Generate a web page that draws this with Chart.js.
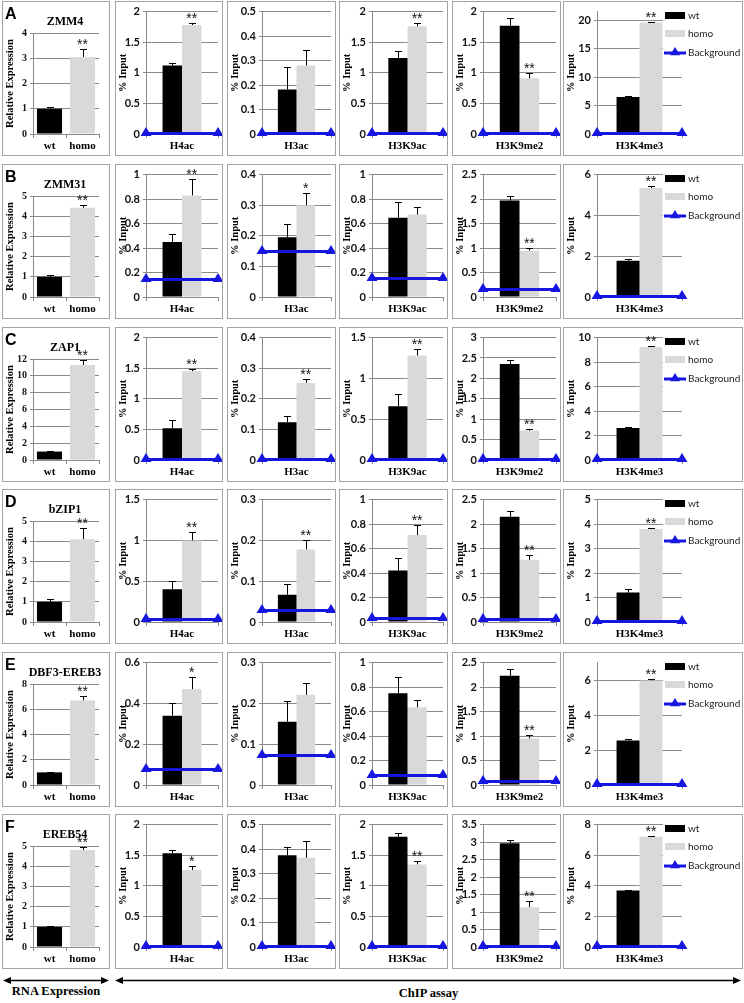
<!DOCTYPE html>
<html>
<head>
<meta charset="utf-8">
<title>RNA expression and ChIP assay</title>
<script src="https://cdn.jsdelivr.net/npm/chart.js@4/dist/chart.umd.min.js"></script>
<style>
  body { margin: 0; background: #fff; }
  #fig { position: relative; width: 744px; height: 1003px; overflow: hidden; background: #fff; }
  .panel { position: absolute; box-sizing: border-box; border: 1px solid #a3a3a3; background: #fff; }
  .panel canvas { position: absolute; left: 0; top: 0; }
  .letter { position: absolute; left: 2px; top: 3px; font: bold 16px "Liberation Sans", Arial, sans-serif; color: #000; }
  .gene { position: absolute; top: 12px; transform: translateX(-50%); white-space: nowrap;
          font: bold 12px "Liberation Serif", "Times New Roman", serif; color: #000; }
  .caption { position: absolute; text-align: center; font: bold 12.5px "Liberation Serif", "Times New Roman", serif; color: #000; }
  #arrows { position: absolute; left: 0; top: 0; }
</style>
</head>
<body>
<div id="fig">
  <svg id="arrows" width="744" height="1003">
    <g stroke="#000" stroke-width="1.5">
      <line x1="8" y1="980.5" x2="104" y2="980.5"/>
      <line x1="120" y1="980.5" x2="736" y2="980.5"/>
    </g>
    <g fill="#000">
      <polygon points="3,980.5 11,977 11,984"/>
      <polygon points="109,980.5 101,977 101,984"/>
      <polygon points="115,980.5 123,977 123,984"/>
      <polygon points="741,980.5 733,977 733,984"/>
    </g>
  </svg>
  <div class="caption" style="left:0;width:112px;top:984px">RNA Expression</div>
  <div class="caption" style="left:115px;width:627px;top:986px">ChIP assay</div>
</div>
<script>
// RNA expression (left column)
var genes = ['ZMM4', 'ZMM31', 'ZAP1', 'bZIP1', 'DBF3-EREB3', 'EREB54'];
var rowLetters = ['A', 'B', 'C', 'D', 'E', 'F'];
var rnaLabels = ['wt', 'homo'];
var rnaWt = [1.0, 1.0, 1.0, 1.0, 1.0, 1.0];
var rnaWtErr = [0.05, 0.10, 0.06, 0.12, 0.05, 0.04];
var rnaHomo = [3.05, 4.42, 11.3, 4.10, 6.70, 4.80];
var rnaHomoErr = [0.32, 0.13, 0.60, 0.55, 0.35, 0.15];
var rnaStars = ['**', '**', '**', '**', '**', '**'];
var rnaMax = [4, 5, 12, 5, 8, 5];
var rnaStep = [1, 1, 2, 1, 2, 1];

// ChIP assay, one row per gene, one column per mark
var marks = ['H4ac', 'H3ac', 'H3K9ac', 'H3K9me2', 'H3K4me3'];
var wtInput = [
  [1.12, 0.182, 1.24, 1.77, 6.5],
  [0.45, 0.195, 0.647, 1.97, 1.78],
  [0.52, 0.123, 0.66, 2.35, 2.61],
  [0.40, 0.067, 0.42, 2.15, 1.20],
  [0.34, 0.155, 0.75, 2.23, 2.55],
  [1.53, 0.375, 1.80, 2.97, 3.70]
];
var wtErr = [
  [0.04, 0.093, 0.11, 0.13, 0.10],
  [0.065, 0.044, 0.13, 0.09, 0.10],
  [0.13, 0.021, 0.15, 0.09, 0.12],
  [0.10, 0.025, 0.10, 0.12, 0.15],
  [0.06, 0.05, 0.13, 0.14, 0.10],
  [0.05, 0.035, 0.06, 0.10, 0.05]
];
var homoInput = [
  [1.78, 0.28, 1.76, 0.91, 19.6],
  [0.83, 0.30, 0.674, 0.946, 5.34],
  [1.45, 0.252, 1.28, 0.72, 9.23],
  [1.00, 0.178, 0.71, 1.27, 3.80],
  [0.47, 0.221, 0.635, 0.95, 5.98],
  [1.26, 0.365, 1.35, 1.14, 7.20]
];
var homoErr = [
  [0.04, 0.062, 0.05, 0.09, 0.15],
  [0.13, 0.041, 0.062, 0.045, 0.08],
  [0.04, 0.013, 0.08, 0.05, 0.10],
  [0.10, 0.022, 0.08, 0.10, 0.04],
  [0.06, 0.03, 0.061, 0.08, 0.10],
  [0.07, 0.07, 0.06, 0.17, 0.06]
];
var homoStars = [
  ['**', '', '**', '**', '**'],
  ['**', '*', '', '**', '**'],
  ['**', '**', '**', '**', '**'],
  ['**', '**', '**', '**', '**'],
  ['*', '', '', '**', '**'],
  ['*', '', '**', '**', '**']
];
var background = [
  [0, 0, 0, 0, 0],
  [0.142, 0.146, 0.145, 0.137, 0],
  [0, 0, 0, 0, 0],
  [0.03, 0.028, 0.025, 0.04, 0],
  [0.073, 0.072, 0.07, 0.07, 0],
  [0, 0, 0, 0, 0]
];
var chipMax = [
  [2, 0.5, 2, 2, 21.5],
  [1, 0.4, 1, 2.5, 6],
  [2, 0.4, 1.5, 3, 10],
  [1.5, 0.3, 1, 2.5, 5],
  [0.6, 0.3, 1, 2.5, 7],
  [2, 0.5, 2, 3.5, 8]
];
var chipStep = [
  [0.5, 0.1, 0.5, 0.5, 5],
  [0.2, 0.1, 0.2, 0.5, 2],
  [0.5, 0.1, 0.5, 0.5, 2],
  [0.5, 0.1, 0.2, 0.5, 1],
  [0.2, 0.1, 0.2, 0.5, 2],
  [0.5, 0.1, 0.5, 0.5, 1]
];

var SERIF = '"Liberation Serif", "Times New Roman", serif';
var SANS = 'Lato, "Liberation Sans", sans-serif';
var GRID = '#8a8a8a';
var BLUE = '#1616e0';
var WT_COLOR = '#000000';
var HOMO_COLOR = '#d9d9d9';

var colLeft = [2, 115, 227, 339, 452, 563];
var colWidth = [108, 108, 109, 109, 109, 180];
var yAxisWidth = [30, 30, 34, 32, 30, 33];
var rightPad = [10, 4, 4, 4, 4, 60];
var rowTop = [1, 164, 327, 489, 652, 814];
var PANEL_H = 155;

Chart.defaults.animation = false;

function keepSteps(step) {
    return function (scale) {
        scale.ticks = scale.ticks.filter(function (t) {
            var r = t.value / step;
            return Math.abs(r - Math.round(r)) < 1e-6;
        });
    };
}

function tickText(v) {
    return String(Math.round(v * 1000) / 1000);
}

function drawTriangle(ctx, x, y, r) {
    ctx.beginPath();
    ctx.moveTo(x, y - r);
    ctx.lineTo(x + r, y + r * 0.65);
    ctx.lineTo(x - r, y + r * 0.65);
    ctx.closePath();
    ctx.fill();
}

// background level: a blue line across the plot with triangle markers at both ends
var backgroundLine = {
    id: 'backgroundLine',
    afterDatasetsDraw: function (chart, args, opts) {
        if (typeof opts.value !== 'number') return;
        var ctx = chart.ctx;
        var area = chart.chartArea;
        var y = Math.round(chart.scales.y.getPixelForValue(opts.value)) - 0.5;
        ctx.save();
        ctx.strokeStyle = BLUE;
        ctx.fillStyle = BLUE;
        ctx.lineWidth = 3;
        ctx.beginPath();
        ctx.moveTo(area.left, y);
        ctx.lineTo(area.right, y);
        ctx.stroke();
        drawTriangle(ctx, area.left, y - 1, 5.5);
        drawTriangle(ctx, area.right, y - 1, 5.5);
        ctx.restore();
    }
};

// error bars (plus direction) and significance stars
var errorBars = {
    id: 'errorBars',
    afterDatasetsDraw: function (chart, args, opts) {
        var ctx = chart.ctx;
        var yScale = chart.scales.y;
        ctx.save();
        ctx.strokeStyle = '#000';
        ctx.lineWidth = 1;
        ctx.fillStyle = '#111';
        ctx.font = '14px "Liberation Sans", Arial, sans-serif';
        ctx.textAlign = 'center';
        ctx.textBaseline = 'alphabetic';
        (opts.sets || []).forEach(function (set) {
            var meta = chart.getDatasetMeta(set.index);
            var values = chart.data.datasets[set.index].data;
            meta.data.forEach(function (bar, i) {
                var x = Math.round(bar.x) + 0.5;
                var top = Math.round(yScale.getPixelForValue(values[i] + set.err[i])) + 0.5;
                ctx.beginPath();
                ctx.moveTo(x, bar.y);
                ctx.lineTo(x, top);
                ctx.moveTo(x - 3.5, top);
                ctx.lineTo(x + 3.5, top);
                ctx.stroke();
                if (set.stars[i]) {
                    ctx.fillText(set.stars[i], bar.x, top - 1);
                }
            });
        });
        ctx.restore();
    }
};

// legend drawn over the top right of the last column
var sideLegend = {
    id: 'sideLegend',
    afterDraw: function (chart, args, opts) {
        if (!opts.show) return;
        var ctx = chart.ctx;
        var x0 = 101, tx = 124;
        ctx.save();
        ctx.fillStyle = '#fff';
        ctx.fillRect(x0 - 2, 4, chart.width - x0 + 2, 58);
        ctx.fillStyle = WT_COLOR;
        ctx.fillRect(x0, 10, 20, 7);
        ctx.fillStyle = HOMO_COLOR;
        ctx.fillRect(x0, 28, 20, 7);
        ctx.strokeStyle = BLUE;
        ctx.lineWidth = 3;
        ctx.beginPath();
        ctx.moveTo(x0 - 1, 51);
        ctx.lineTo(x0 + 21, 51);
        ctx.stroke();
        ctx.fillStyle = BLUE;
        drawTriangle(ctx, x0 + 10, 50, 5);
        ctx.fillStyle = '#222';
        ctx.font = '10px ' + SANS;
        ctx.textAlign = 'left';
        ctx.textBaseline = 'middle';
        ctx.fillText('wt', tx, 13.5);
        ctx.fillText('homo', tx, 31.5);
        ctx.fillText('Background', tx, 51);
        ctx.restore();
    }
};

var fig = document.getElementById('fig');

function addPanel(r, c) {
    var box = document.createElement('div');
    box.className = 'panel';
    box.style.left = colLeft[c] + 'px';
    box.style.top = rowTop[r] + 'px';
    box.style.width = colWidth[c] + 'px';
    box.style.height = PANEL_H + 'px';
    var cv = document.createElement('canvas');
    cv.width = colWidth[c] - 2;
    cv.height = PANEL_H - 2;
    box.appendChild(cv);
    fig.appendChild(box);
    return {box: box, canvas: cv};
}

function xAxis() {
    return {
        grid: {display: true, drawOnChartArea: false, drawTicks: true, tickLength: 4, color: GRID},
        border: {display: true, color: GRID},
        ticks: {font: {family: SERIF, size: 11, weight: 'bold'}, color: '#000', padding: 2, maxRotation: 0, autoSkip: false},
        afterFit: function (s) { s.height = 21; }
    };
}

function yAxis(max, step, title, width, tickFont) {
    return {
        min: 0,
        max: max,
        ticks: {stepSize: step, includeBounds: false, font: tickFont, color: '#111', padding: 3, callback: tickText},
        afterBuildTicks: keepSteps(step),
        grid: {color: GRID, lineWidth: 1, drawTicks: true, tickLength: 3},
        border: {display: true, color: GRID},
        title: {display: true, text: title, color: '#000', padding: {top: 1, bottom: 0},
                font: {family: SERIF, size: 10.5, weight: 'bold'}},
        afterFit: function (s) { s.width = width; }
    };
}

function rnaChart(r) {
    var p = addPanel(r, 0);
    var letter = document.createElement('div');
    letter.className = 'letter';
    letter.textContent = rowLetters[r];
    p.box.appendChild(letter);
    var gene = document.createElement('div');
    gene.className = 'gene';
    gene.style.left = '62px';
    gene.textContent = genes[r];
    p.box.appendChild(gene);

    new Chart(p.canvas, {
        type: 'bar',
        data: {
            labels: rnaLabels,
            datasets: [{
                label: 'Relative Expression',
                data: [rnaWt[r], rnaHomo[r]],
                backgroundColor: [WT_COLOR, HOMO_COLOR],
                borderWidth: 0,
                categoryPercentage: 0.76,
                barPercentage: 1
            }]
        },
        options: {
            responsive: false,
            devicePixelRatio: 1,
            layout: {padding: {top: 31, right: rightPad[0], left: 0, bottom: 0}},
            scales: {
                x: xAxis(),
                y: yAxis(rnaMax[r], rnaStep[r], 'Relative Expression', yAxisWidth[0],
                         {family: SERIF, size: 10, weight: 'bold'})
            },
            plugins: {
                legend: {display: false},
                tooltip: {enabled: false},
                backgroundLine: {},
                errorBars: {sets: [{index: 0, err: [rnaWtErr[r], rnaHomoErr[r]], stars: ['', rnaStars[r]]}]},
                sideLegend: {show: false}
            }
        },
        plugins: [backgroundLine, errorBars, sideLegend]
    });
}

function chipChart(r, m) {
    var c = m + 1;
    var p = addPanel(r, c);
    new Chart(p.canvas, {
        type: 'bar',
        data: {
            labels: [marks[m]],
            datasets: [{
                label: 'wt',
                data: [wtInput[r][m]],
                backgroundColor: WT_COLOR,
                borderWidth: 0,
                categoryPercentage: 0.54,
                barPercentage: 1
            }, {
                label: 'homo',
                data: [homoInput[r][m]],
                backgroundColor: HOMO_COLOR,
                borderWidth: 0,
                categoryPercentage: 0.54,
                barPercentage: 1
            }]
        },
        options: {
            responsive: false,
            devicePixelRatio: 1,
            layout: {padding: {top: 8, right: rightPad[c], left: 0, bottom: 0}},
            scales: {
                x: xAxis(),
                y: yAxis(chipMax[r][m], chipStep[r][m], '% Input', yAxisWidth[c],
                         {family: SANS, size: 11, weight: 'bold'})
            },
            plugins: {
                legend: {display: false},
                tooltip: {enabled: false},
                backgroundLine: {value: background[r][m]},
                errorBars: {sets: [
                    {index: 0, err: [wtErr[r][m]], stars: ['']},
                    {index: 1, err: [homoErr[r][m]], stars: [homoStars[r][m]]}
                ]},
                sideLegend: {show: m === marks.length - 1}
            }
        },
        plugins: [backgroundLine, errorBars, sideLegend]
    });
}

for (var r = 0; r < genes.length; r++) {
    rnaChart(r);
    for (var m = 0; m < marks.length; m++) {
        chipChart(r, m);
    }
}
</script>
</body>
</html>
